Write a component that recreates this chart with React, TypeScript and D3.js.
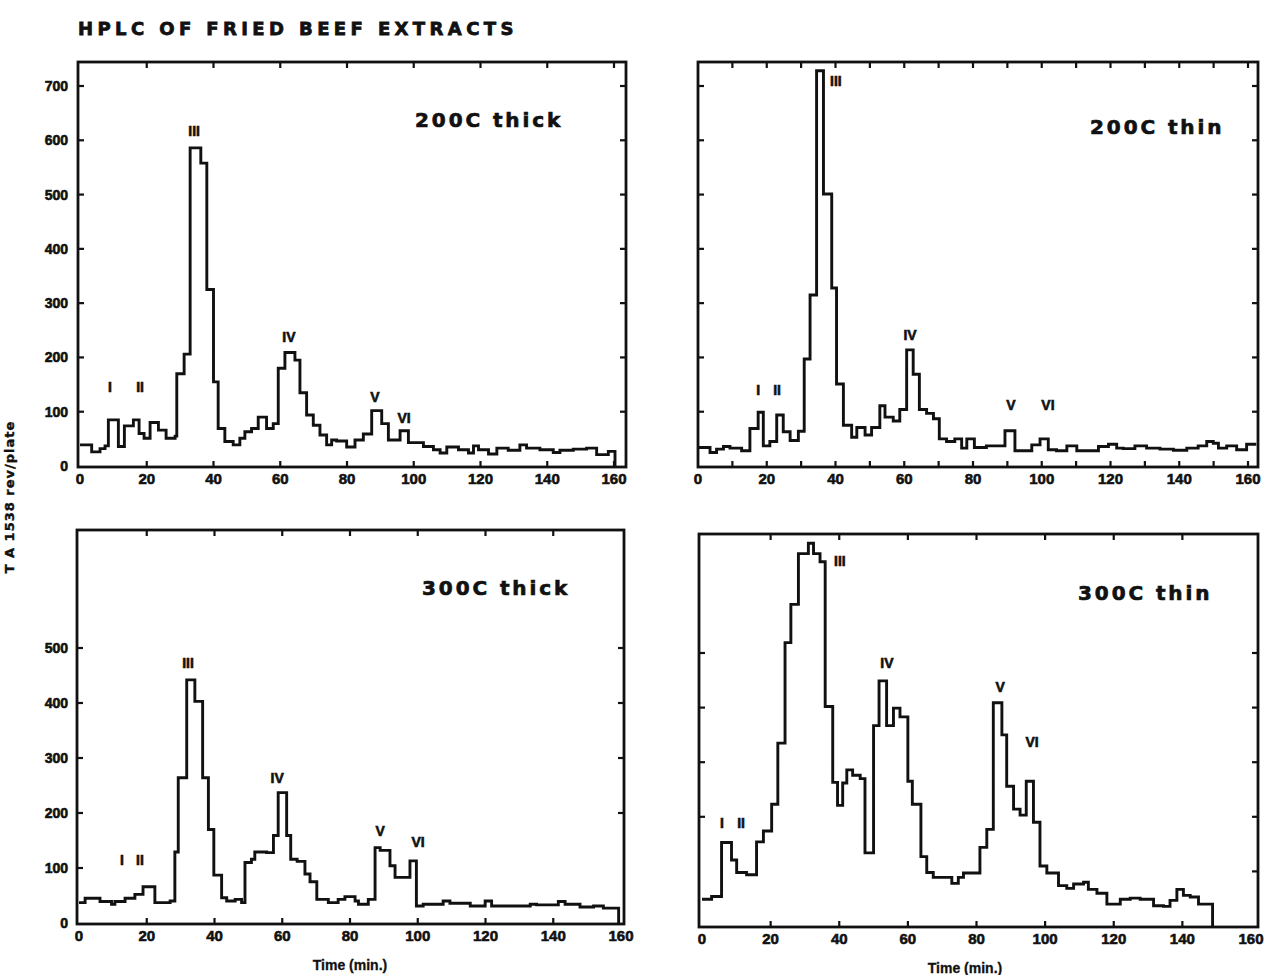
import React from 'react';
import { scaleLinear, line, curveStepAfter } from 'd3';

const TITLE = 'HPLC OF FRIED BEEF EXTRACTS';
const Y_LABEL = 'T A 1538 rev/plate';
const X_LABEL = 'Time (min.)';

const timeLabels = [0, 20, 40, 60, 80, 100, 120, 140, 160];
const coarseTicks = [20, 40, 60, 80, 100, 120, 140, 160];
const innerTicks = [20, 40, 60, 80, 100, 120, 140];
const fineTicks = [10, 20, 30, 40, 50, 60, 70, 80, 90, 100, 110, 120, 130, 140, 150, 160];
const highValueTicks = [100, 200, 300, 400, 500, 600, 700];
const highValueLabels = [0, 100, 200, 300, 400, 500, 600, 700];
const lowValueTicks = [100, 200, 300, 400, 500];
const lowValueLabels = [0, 100, 200, 300, 400, 500];

// step starts: [time (min), revertants/plate]
const thick200: [number, number][] = [
  [0, 39], [3.5, 26], [6, 32], [7.5, 37], [8.5, 85], [11.5, 36], [13.3, 74], [16, 85],
  [17.7, 60], [19.2, 51], [21, 80], [23.5, 66], [25.8, 51], [28.5, 55], [29, 170],
  [31.2, 206], [33, 586], [36.2, 558], [38, 325], [40, 155], [41.4, 69], [43.4, 45],
  [45.9, 39], [47.9, 51], [49.4, 63], [51.4, 69], [53.4, 90], [55.9, 69], [57.9, 78],
  [59.4, 180], [61.4, 209], [64.4, 195], [65.9, 135], [67.9, 94], [69.9, 75], [71.9, 57],
  [73.9, 39], [75.4, 48], [76.9, 46], [79.9, 35], [82.4, 48], [84.9, 59], [87.4, 102],
  [90.4, 78], [92.4, 48], [95.9, 65], [98.4, 43], [102.9, 36], [105.9, 30], [107.9, 24],
  [109.9, 35], [113.4, 30], [116.4, 24], [117.9, 37], [119.4, 30], [122.4, 22],
  [124.9, 33], [128.3, 29], [131.8, 39], [133.8, 33], [137.8, 30], [141.8, 25],
  [143.8, 29], [147.8, 31], [151.8, 33], [154.8, 21], [158.3, 27], [160.3, 0],
];

const thin200: [number, number][] = [
  [0, 34], [3.5, 25], [5.4, 31], [7.4, 36], [9.3, 33], [12.7, 28], [15.1, 69], [17.5, 99],
  [19, 37], [20.9, 45], [22.9, 94], [24.8, 63], [26.8, 47], [29.2, 64], [30.9, 197],
  [32.6, 315], [34.5, 728], [36.5, 501], [38.9, 328], [40.3, 151], [42.3, 75], [44.7, 53],
  [46.2, 71], [48.6, 57], [50.5, 71], [52.9, 111], [54.4, 90], [56.8, 83], [58.7, 104],
  [60.7, 214], [62.6, 169], [64.4, 104], [66.5, 97], [68.5, 87], [70.2, 50], [72.3, 45],
  [74.7, 50], [76.7, 33], [78.2, 50], [80.4, 34], [83.9, 37], [89.3, 65], [92.2, 28],
  [97.1, 39], [99.5, 50], [101.9, 30], [104.3, 28], [107.3, 37], [110.2, 28], [116.5, 36],
  [119.4, 40], [121.8, 33], [123.7, 32], [127.1, 37], [130.5, 33], [134.4, 31],
  [138.3, 29], [142.2, 33], [145.5, 37], [148, 45], [149.9, 42], [151.4, 33], [153.8, 37],
  [156.7, 30], [159.6, 40], [162.4, 40],
];

const thick300: [number, number][] = [
  [0, 37], [1.8, 45], [6.2, 39], [9.6, 34], [10.6, 39], [13.6, 45], [16.5, 52], [18.9, 66],
  [22.4, 37], [26.9, 40], [28.3, 129], [29.3, 264], [31.8, 442], [34.2, 403], [36.5, 264],
  [38.2, 170], [39.8, 87], [42.1, 46], [43.6, 40], [46.1, 43], [48, 37], [49, 110],
  [50.9, 116], [51.9, 129], [55.4, 128], [57.4, 159], [58.8, 237], [61.3, 159],
  [62.5, 116], [64.4, 112], [66.7, 89], [68.2, 75], [70.2, 43], [73.6, 37], [76.5, 43],
  [78.5, 48], [81.5, 40], [82.5, 34], [85.4, 43], [87.4, 137], [88.9, 132], [91.8, 104],
  [93.3, 83], [97.7, 113], [99.6, 31], [101.6, 34], [107.5, 40], [109.5, 36], [115.5, 31],
  [119.9, 40], [121.8, 31], [133.2, 34], [135.1, 33], [141.5, 39], [143.5, 34],
  [147.9, 29], [151.9, 31], [154.8, 27], [159.3, 0],
];

const thin300: [number, number][] = [
  [0, 49], [2.8, 54], [5.7, 153], [8.6, 121], [10.1, 98], [13, 94], [15.9, 154],
  [17.9, 174], [20.3, 223], [22.1, 335], [24.2, 519], [25.9, 589], [28.1, 682], [31, 701],
  [32.5, 682], [34.4, 667], [35.9, 402], [38.1, 263], [39.5, 221], [41, 262], [42.2, 286],
  [43.9, 276], [46.1, 270], [47.5, 134], [50, 367], [51.6, 449], [53.8, 367], [55.8, 399],
  [57.7, 383], [60, 265], [61.3, 223], [63.8, 127], [65.5, 98], [67.4, 89], [72.8, 78],
  [74.7, 89], [76.2, 97], [81, 144], [83, 177], [84.9, 409], [87.4, 350], [88.8, 256],
  [90.8, 214], [92.7, 203], [94.5, 265], [96.6, 190], [98.5, 110], [100.5, 97],
  [103.9, 74], [106.3, 69], [108.3, 77], [111.2, 80], [112.6, 67], [115.1, 60], [118, 40],
  [121.9, 49], [124.8, 51], [127.7, 49], [131.6, 37], [134.5, 36], [136.4, 47],
  [138.4, 67], [140.3, 56], [142.3, 53], [144.7, 40], [148.8, 0],
];

// peak names: [label, time, value at text baseline]
const thick200Peaks: [string, number, number][] = [
  ['I', 9, 136], ['II', 18, 136], ['III', 34.2, 608], ['IV', 62.6, 228], ['V', 88.4, 118], ['VI', 97.1, 79],
];
const thin200Peaks: [string, number, number][] = [
  ['I', 17.5, 131], ['II', 23, 131], ['III', 40.1, 700], ['IV', 61.7, 232], ['V', 91, 103], ['VI', 101.8, 103],
];
const thick300Peaks: [string, number, number][] = [
  ['I', 12.7, 105], ['II', 18, 105], ['III', 32.2, 464], ['IV', 58.5, 254], ['V', 88.9, 158], ['VI', 100.1, 139],
];
const thin300Peaks: [string, number, number][] = [
  ['I', 5.8, 179], ['II', 11.4, 179], ['III', 40.2, 659], ['IV', 53.9, 473], ['V', 86.9, 429], ['VI', 96.2, 327],
];

const HEAVY = '"DejaVu Sans", sans-serif';
const SANS = '"Liberation Sans", Arial, sans-serif';
const INK = '#111';

type PanelProps = {
  data: [number, number][];
  peaks: [string, number, number][];
  name: string;
  nameAt: [number, number];
  frame: { l: number; r: number; t: number; b: number };
  xRange: [number, number];
  yTop: number;
  yTopPx: number;
  yLabels?: number[];
  leftTicks: number[];
  rightTicks: number[];
  topTicks: number[];
  bottomTicks: number[];
  xTitleX?: number;
};

const boldText = { fontFamily: SANS, fontWeight: 'bold' as const, fill: INK, stroke: INK, strokeWidth: 0.6 };

const Panel = (p: PanelProps) => {
  const { frame } = p;
  const x = scaleLinear().domain([0, 160]).range(p.xRange);
  const y = scaleLinear().domain([0, p.yTop]).range([frame.b - 1, p.yTopPx]);
  const path = line<[number, number]>()
    .x(d => x(d[0]))
    .y(d => y(d[1]))
    .curve(curveStepAfter)(p.data);
  const tl = 6;

  return (
    <g>
      <path d={path || ''} fill="none" stroke={INK} strokeWidth={2.9} />
      <rect
        x={frame.l}
        y={frame.t}
        width={frame.r - frame.l}
        height={frame.b - frame.t}
        fill="none"
        stroke={INK}
        strokeWidth={2.8}
      />
      {p.bottomTicks.map(t => (
        <line key={'b' + t} x1={x(t)} x2={x(t)} y1={frame.b} y2={frame.b - tl} stroke={INK} strokeWidth={2.2} />
      ))}
      {p.topTicks.map(t => (
        <line key={'t' + t} x1={x(t)} x2={x(t)} y1={frame.t} y2={frame.t + tl} stroke={INK} strokeWidth={2.2} />
      ))}
      {p.leftTicks.map(v => (
        <line key={'l' + v} x1={frame.l} x2={frame.l + tl} y1={y(v)} y2={y(v)} stroke={INK} strokeWidth={2.2} />
      ))}
      {p.rightTicks.map(v => (
        <line key={'r' + v} x1={frame.r} x2={frame.r - tl} y1={y(v)} y2={y(v)} stroke={INK} strokeWidth={2.2} />
      ))}
      {timeLabels.map(t => (
        <text key={'xl' + t} x={x(t)} y={frame.b + 17} textAnchor="middle" fontSize={15} {...boldText}>
          {t}
        </text>
      ))}
      {(p.yLabels || []).map(v => (
        <text key={'yl' + v} x={68} y={y(v) + 5} textAnchor="end" fontSize={14} {...boldText}>
          {v}
        </text>
      ))}
      {p.xTitleX !== undefined && (
        <text x={p.xTitleX} y={frame.b + 46} textAnchor="middle" fontSize={14} {...boldText} strokeWidth={0.3}>
          {X_LABEL}
        </text>
      )}
      {p.peaks.map(([label, t, v]) => (
        <text key={label} x={x(t)} y={y(v)} textAnchor="middle" fontSize={14} {...boldText}>
          {label}
        </text>
      ))}
      <text
        x={p.nameAt[0]}
        y={p.nameAt[1]}
        fontFamily={HEAVY}
        fontWeight="bold"
        fontSize={20}
        letterSpacing={2.9}
        fill={INK}
        stroke={INK}
        strokeWidth={0.7}
      >
        {p.name}
      </text>
    </g>
  );
};

const App = () => {
  return (
    <svg
      width={1267}
      height={975}
      style={{ position: 'absolute', left: 0, top: 0, background: '#fff' }}
    >
      <rect width={1267} height={975} fill="#fff" />
      <text
        x={78}
        y={35}
        fontFamily={HEAVY}
        fontWeight="bold"
        fontSize={18}
        letterSpacing={4.4}
        fill={INK}
        stroke={INK}
        strokeWidth={0.8}
      >
        {TITLE}
      </text>
      <text
        transform="translate(14, 497) rotate(-90)"
        textAnchor="middle"
        fontFamily={HEAVY}
        fontWeight="bold"
        fontSize={13}
        letterSpacing={1}
        fill={INK}
        stroke={INK}
        strokeWidth={0.4}
      >
        {Y_LABEL}
      </text>

      <Panel
        data={thick200}
        peaks={thick200Peaks}
        name="200C thick"
        nameAt={[415, 127]}
        frame={{ l: 78, r: 626, t: 62, b: 467 }}
        xRange={[80, 614]}
        yTop={700}
        yTopPx={86}
        yLabels={highValueLabels}
        leftTicks={highValueTicks}
        rightTicks={highValueTicks}
        topTicks={coarseTicks}
        bottomTicks={coarseTicks}
      />
      <Panel
        data={thin200}
        peaks={thin200Peaks}
        name="200C thin"
        nameAt={[1090, 134]}
        frame={{ l: 698, r: 1258, t: 62, b: 467 }}
        xRange={[698, 1248]}
        yTop={700}
        yTopPx={86}
        leftTicks={highValueTicks}
        rightTicks={highValueTicks}
        topTicks={fineTicks}
        bottomTicks={fineTicks}
      />
      <Panel
        data={thick300}
        peaks={thick300Peaks}
        name="300C thick"
        nameAt={[422, 595]}
        frame={{ l: 77, r: 624, t: 530, b: 924 }}
        xRange={[79, 621]}
        yTop={500}
        yTopPx={648}
        yLabels={lowValueLabels}
        leftTicks={lowValueTicks}
        rightTicks={lowValueTicks.slice(1)}
        topTicks={innerTicks}
        bottomTicks={innerTicks}
        xTitleX={350}
      />
      <Panel
        data={thin300}
        peaks={thin300Peaks}
        name="300C thin"
        nameAt={[1078, 600]}
        frame={{ l: 699, r: 1258, t: 534, b: 927 }}
        xRange={[702, 1251]}
        yTop={500}
        yTopPx={653}
        leftTicks={lowValueTicks.slice(1)}
        rightTicks={lowValueTicks}
        topTicks={innerTicks}
        bottomTicks={innerTicks}
        xTitleX={965}
      />
    </svg>
  );
};

export default App;
